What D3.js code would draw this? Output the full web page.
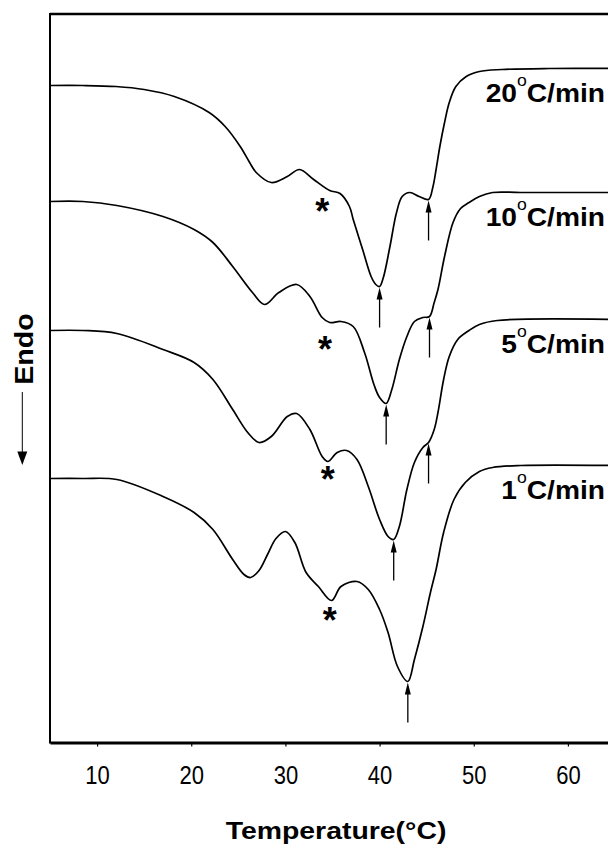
<!DOCTYPE html>
<html>
<head>
<meta charset="utf-8">
<script src="https://cdn.jsdelivr.net/npm/d3@7"></script>
<style>
  body { margin: 0; background: #fff; }
  svg { display: block; }
  text { font-family: "Liberation Sans", Arial, sans-serif; fill: #000; }
</style>
</head>
<body>
<svg id="chart" width="608" height="846"></svg>
<script>
// ---------------------------------------------
// Data (signal in arbitrary units)
// ---------------------------------------------

const rates = ['20', '10', '5', '1'];

const temps20 = [5, 8.5, 12, 15, 18.2, 21.9, 23.6, 25.2, 26.2, 26.9, 28.5, 30.2, 31.5, 33.0, 34.7, 35.8, 36.8, 37.2, 38.2, 39.1, 39.6, 40.0, 40.4, 41.1, 41.8, 42.4, 43.2, 44.2, 45.2, 45.65, 46.0, 46.4, 46.9, 47.4, 48.1, 49.2, 50.6, 53, 58, 65];
const signal20 = [65.7, 65.7, 65.6, 65.3, 64.6, 63.0, 61.6, 59.6, 58.0, 57.0, 56.0, 56.6, 57.3, 56.3, 55.2, 54.9, 53.6, 52.3, 49.3, 46.6, 45.8, 45.6, 46.5, 49.6, 53.0, 54.6, 55.0, 54.6, 54.3, 55.5, 57.3, 59.6, 62.0, 64.0, 65.6, 66.6, 67.1, 67.3, 67.4, 67.4];

const temps10 = [5, 8.5, 12.1, 17.0, 20.3, 22.3, 24.4, 26.5, 27.8, 29.3, 31.2, 32.6, 33.9, 34.7, 35.9, 37.2, 38.4, 39.4, 40.0, 40.7, 41.3, 42.1, 42.9, 43.7, 44.6, 45.3, 45.8, 46.2, 46.9, 47.8, 48.6, 49.5, 50.6, 52, 55, 65];
const signal10 = [54.1, 54.1, 53.7, 52.6, 51.3, 50.0, 47.6, 45.0, 43.8, 45.0, 45.8, 44.6, 42.5, 42.0, 42.1, 41.6, 39.0, 35.8, 34.5, 33.9, 35.3, 38.3, 40.6, 42.1, 42.5, 42.6, 44.0, 45.3, 48.6, 52.0, 53.4, 54.0, 54.6, 55.0, 55.0, 55.0];

const temps5 = [5, 8.5, 12.1, 17.0, 20.3, 22.3, 24.4, 26.0, 27.2, 28.5, 30.2, 31.2, 32.6, 33.9, 34.5, 35.5, 36.5, 37.6, 38.8, 40.0, 40.9, 41.5, 42.1, 42.9, 43.7, 44.6, 45.2, 45.8, 46.2, 46.8, 47.4, 48.3, 49.5, 50.6, 52.5, 65];
const signal5 = [41.2, 41.2, 40.9, 39.3, 38.0, 36.3, 33.3, 31.0, 30.0, 30.6, 32.6, 32.9, 31.3, 28.6, 28.1, 29.0, 29.2, 28.3, 25.6, 22.3, 20.6, 20.3, 21.6, 25.3, 28.0, 29.5, 30.0, 31.3, 33.0, 36.3, 38.6, 40.3, 41.2, 41.8, 42.2, 42.3];

const temps1 = [5, 8.5, 12.1, 17.0, 20.3, 22.3, 24.4, 25.6, 26.3, 27.2, 28.1, 29.0, 30.0, 31.0, 32.2, 33.5, 34.9, 35.9, 37.6, 38.8, 40.0, 40.9, 41.9, 43.0, 43.7, 44.6, 45.4, 46.0, 46.8, 47.9, 49.1, 50.6, 52, 55, 65];
const signal1 = [26.4, 26.4, 26.3, 24.6, 23.0, 21.3, 18.3, 16.8, 16.5, 17.2, 18.8, 20.4, 21.1, 20.0, 17.0, 15.6, 14.2, 15.6, 16.1, 15.3, 13.3, 11.0, 7.6, 6.1, 8.3, 11.6, 15.0, 17.3, 21.0, 24.3, 26.0, 27.1, 27.5, 27.7, 27.7];

// peak markers (arrows) and the asterisk transition, per curve
const arrowTemps20 = [40.0, 45.2];
const arrowTemps10 = [40.7, 45.3];
const arrowTemps5 = [41.5, 45.2];
const arrowTemps1 = [43.0];

const starTemps = [33.9, 34.2, 34.5, 34.7];
const starSignal = [53.9, 40.1, 27.1, 13.0];

const tickValues = [10, 20, 30, 40, 50, 60];
const xTitle = 'Temperature(°C)';
const yTitle = 'Endo';

// ---------------------------------------------
// Build series
// ---------------------------------------------
const series = [
  {rate: rates[0], temps: temps20, signal: signal20, arrows: arrowTemps20},
  {rate: rates[1], temps: temps10, signal: signal10, arrows: arrowTemps10},
  {rate: rates[2], temps: temps5, signal: signal5, arrows: arrowTemps5},
  {rate: rates[3], temps: temps1, signal: signal1, arrows: arrowTemps1}
];
series.forEach((s, i) => {
  s.points = s.temps.map((t, j) => ({t: t, v: s.signal[j]}));
  s.star = {t: starTemps[i], v: starSignal[i]};
});

// linear lookup of the signal at a given temperature
let signalAt = function(s, t) {
  const j = d3.bisector(d => d.t).left(s.points, t);
  if (j <= 0) return s.points[0].v;
  const a = s.points[j - 1], b = s.points[j];
  if (!b) return a.v;
  return a.v + (b.v - a.v) * (t - a.t) / (b.t - a.t);
};

// ---------------------------------------------
// Drawing
// ---------------------------------------------
const svg = d3.select('#chart');

const x = d3.scaleLinear().domain([5, 65]).range([50, 615]);
const y = d3.scaleLinear().domain([0, 72.85]).range([742.5, 14]);

// frame (top and left), right side runs off the page
svg.append('line')
  .attr('x1', x(5)).attr('x2', x(65))
  .attr('y1', y(72.85)).attr('y2', y(72.85))
  .attr('stroke', '#000').attr('stroke-width', 2.4);
svg.append('line')
  .attr('x1', x(5)).attr('x2', x(5))
  .attr('y1', y(72.85) - 1).attr('y2', y(0) + 1)
  .attr('stroke', '#000').attr('stroke-width', 2);

// bottom axis
const xAxis = d3.axisBottom(x)
  .tickValues(tickValues)
  .tickSize(4)
  .tickSizeOuter(0)
  .tickPadding(20)
  .tickFormat(d3.format('d'));

const gx = svg.append('g')
  .attr('transform', `translate(0,${y(0)})`)
  .call(xAxis);
gx.select('.domain').attr('stroke-width', 2.8);
gx.selectAll('.tick line').attr('stroke-width', 1.2);
gx.selectAll('.tick text')
  .attr('transform', 'scale(0.88,1)')
  .style('font-size', '25px')
  .style('font-family', '"Liberation Sans", Arial, sans-serif');

// curves
const line = d3.line()
  .x(d => x(d.t))
  .y(d => y(d.v))
  .curve(d3.curveCatmullRom.alpha(0.5));

svg.selectAll('path.trace').data(series)
  .join('path')
  .attr('class', 'trace')
  .attr('d', s => line(s.points))
  .attr('fill', 'none')
  .attr('stroke', '#000')
  .attr('stroke-width', 1.7);

// arrows pointing up at the peaks
const arrowLen = 40;
series.forEach(s => {
  s.arrows.forEach(t => {
    const ax = x(t);
    const tip = y(signalAt(s, t)) + 1;
    svg.append('line')
      .attr('x1', ax).attr('x2', ax)
      .attr('y1', tip + 8).attr('y2', tip + arrowLen)
      .attr('stroke', '#000').attr('stroke-width', 1.3);
    svg.append('path')
      .attr('d', `M${ax},${tip}L${ax - 3},${tip + 12}L${ax + 3},${tip + 12}Z`)
      .attr('fill', '#000');
  });
});

// asterisks
svg.selectAll('text.star').data(series)
  .join('text')
  .attr('class', 'star')
  .attr('x', s => x(s.star.t))
  .attr('y', s => y(s.star.v) + 20)
  .attr('text-anchor', 'middle')
  .style('font-size', '36px')
  .style('font-weight', 'bold')
  .text('*');

// rate labels at the right plateau
series.forEach(s => {
  const last = s.points[s.points.length - 1];
  const label = svg.append('text')
    .attr('transform', `translate(605,${y(last.v) + 33}) scale(1.1,1)`)
    .attr('text-anchor', 'end')
    .style('font-size', '25.6px')
    .style('font-weight', 'bold');
  label.append('tspan').text(s.rate);
  label.append('tspan')
    .attr('dy', -16)
    .style('font-size', '16px')
    .style('font-weight', 'normal')
    .text('o');
  label.append('tspan').attr('dy', 16).text('C/min');
});

// axis titles
svg.append('text')
  .attr('transform', 'translate(336,839) scale(1.15,1)')
  .attr('text-anchor', 'middle')
  .style('font-size', '24.7px')
  .style('font-weight', 'bold')
  .text(xTitle);

svg.append('text')
  .attr('transform', 'translate(33,349) rotate(-90) scale(1.12,1)')
  .attr('text-anchor', 'middle')
  .style('font-size', '25.6px')
  .style('font-weight', 'bold')
  .text(yTitle);

// "Endo" direction arrow
svg.append('line')
  .attr('x1', 22.3).attr('x2', 22.3)
  .attr('y1', 392).attr('y2', 453)
  .attr('stroke', '#000').attr('stroke-width', 1);
svg.append('path')
  .attr('d', 'M22.3,465L17.3,451.5L27.3,451.5Z')
  .attr('fill', '#000');
</script>
</body>
</html>
